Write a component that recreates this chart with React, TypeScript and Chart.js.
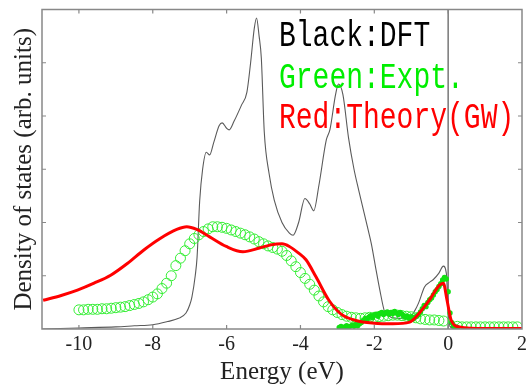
import React, { useEffect, useRef } from "react";
import { Chart, registerables } from "chart.js";

Chart.register(...registerables);

// ---- Data ----
const xTickValues = [-10, -8, -6, -4, -2, 0, 2];
const yTickValues = [0, 1, 2, 3, 4, 5, 6];

// Black: DFT density of states
const dftX = [-11, -10, -9, -8.5, -8, -7.6, -7.3, -7.1, -7.0, -6.94, -6.85, -6.8, -6.73, -6.65, -6.55, -6.46, -6.35, -6.2, -6.12, -6.0, -5.93, -5.8, -5.6, -5.45, -5.35, -5.25, -5.19, -5.12, -5.06, -4.98, -4.85, -4.71, -4.5, -4.3, -4.2, -4.05, -3.88, -3.75, -3.64, -3.5, -3.3, -3.2, -3.05, -2.97, -2.85, -2.7, -2.55, -2.42, -2.17, -2.08, -1.95, -1.85, -1.72, -1.6, -1.3, -1.04, -0.9, -0.8, -0.64, -0.5, -0.4, -0.25, -0.13, -0.05, 0.0, 0.05, 0.2, 2.0];
const dftY = [0.0, 0.02, 0.04, 0.06, 0.08, 0.14, 0.2, 0.3, 0.45, 0.6, 1.0, 1.35, 2.4, 3.0, 3.32, 3.27, 3.5, 3.82, 3.87, 3.77, 3.74, 3.9, 4.2, 4.45, 5.0, 5.65, 5.84, 5.5, 5.09, 3.7, 2.92, 2.42, 2.0, 1.8, 1.76, 2.0, 2.45, 2.35, 2.22, 2.7, 3.55, 3.75, 4.4, 4.6, 4.4, 3.6, 3.0, 2.6, 1.87, 1.6, 1.1, 0.73, 0.32, 0.24, 0.2, 0.22, 0.35, 0.49, 0.79, 0.88, 0.93, 1.05, 1.18, 1.05, 0.4, 0.05, 0.0, 0.0];

// Red: Theory (GW)
const gwX = [-10.97, -10.48, -10.04, -9.59, -9.14, -8.69, -8.25, -7.8, -7.35, -7.08, -6.81, -6.46, -6.01, -5.56, -5.11, -4.8, -4.5, -4.3, -4.04, -3.85, -3.58, -3.23, -2.9, -2.5, -2.0, -1.5, -1.04, -0.78, -0.51, -0.24, -0.13, -0.03, 0.08, 0.3, 1.0, 2.0];
const gwY = [0.54, 0.63, 0.73, 0.86, 1.01, 1.23, 1.48, 1.70, 1.87, 1.92, 1.87, 1.73, 1.55, 1.45, 1.52, 1.58, 1.6, 1.55, 1.42, 1.3, 0.98, 0.54, 0.28, 0.16, 0.11, 0.1, 0.13, 0.3, 0.54, 0.82, 0.86, 0.54, 0.17, 0.04, 0.01, 0.01];

// Green: Experiment (open circles)
const exptX = [-10.0, -9.875, -9.75, -9.625, -9.5, -9.375, -9.25, -9.125, -9.0, -8.875, -8.75, -8.625, -8.5, -8.375, -8.25, -8.125, -8.0, -7.875, -7.75, -7.625, -7.5, -7.375, -7.25, -7.125, -7.0, -6.875, -6.75, -6.625, -6.5, -6.375, -6.25, -6.125, -6.0, -5.875, -5.75, -5.625, -5.5, -5.375, -5.25, -5.125, -5.0, -4.875, -4.75, -4.625, -4.5, -4.375, -4.25, -4.125, -4.0, -3.875, -3.75, -3.625, -3.5, -3.375, -3.25, -3.125, -3.0, -2.875, -2.75, -2.625, -2.5, -2.375, -2.25, -2.125, -2.0, -1.875, -1.75, -1.625, -1.5, -1.375, -1.25, -1.125, -1.0, -0.875, -0.75, -0.625, -0.5, -0.375, -0.25, -0.125, 0.25, 0.375, 0.5, 0.625, 0.75, 0.875, 1.0, 1.125, 1.25, 1.375, 1.5, 1.625, 1.75, 1.875];
const exptY = [0.36, 0.36, 0.37, 0.37, 0.37, 0.38, 0.38, 0.39, 0.40, 0.41, 0.42, 0.44, 0.46, 0.48, 0.51, 0.55, 0.60, 0.66, 0.76, 0.86, 1.0, 1.19, 1.33, 1.47, 1.60, 1.70, 1.77, 1.83, 1.88, 1.92, 1.92, 1.91, 1.89, 1.86, 1.83, 1.80, 1.77, 1.73, 1.69, 1.64, 1.60, 1.56, 1.53, 1.50, 1.46, 1.38, 1.28, 1.17, 1.06, 0.95, 0.84, 0.73, 0.62, 0.51, 0.42, 0.36, 0.31, 0.27, 0.24, 0.22, 0.21, 0.20, 0.21, 0.22, 0.22, 0.23, 0.24, 0.25, 0.26, 0.26, 0.25, 0.24, 0.23, 0.21, 0.19, 0.18, 0.17, 0.17, 0.16, 0.15, 0.05, 0.04, 0.04, 0.04, 0.04, 0.04, 0.04, 0.04, 0.04, 0.04, 0.04, 0.04, 0.04, 0.04];

// Green: Experiment (filled dots, near the Fermi level)
const exptDotX = [-2.95, -2.9, -2.85, -2.8, -2.75, -2.7, -2.65, -2.6, -2.55, -2.5, -2.45, -2.4, -2.35, -2.3, -2.25, -2.2, -2.15, -2.1, -2.05, -2.0, -1.95, -1.9, -1.85, -1.8, -1.75, -1.7, -1.65, -1.6, -1.55, -1.5, -1.45, -1.4, -1.35, -1.3, -1.25, -1.2, -1.15, -1.1, -1.05, -1.0, -0.95, -0.9, -0.85, -0.8, -0.75, -0.7, -0.65, -0.6, -0.55, -0.5, -0.45, -0.4, -0.35, -0.3, -0.25, -0.2, -0.15, -0.1, -0.05, 0.0, 0.05, 0.1, 0.15, 0.2, 0.25];
const exptDotY = [0.03, 0.05, 0.02, 0.04, 0.06, 0.03, 0.05, 0.07, 0.05, 0.08, 0.06, 0.1, 0.12, 0.16, 0.2, 0.17, 0.22, 0.25, 0.21, 0.26, 0.28, 0.24, 0.29, 0.31, 0.27, 0.3, 0.32, 0.28, 0.31, 0.29, 0.33, 0.3, 0.27, 0.31, 0.28, 0.25, 0.22, 0.24, 0.2, 0.23, 0.19, 0.22, 0.24, 0.27, 0.32, 0.38, 0.44, 0.42, 0.5, 0.55, 0.58, 0.64, 0.7, 0.74, 0.8, 0.85, 0.92, 0.97, 0.94, 0.7, 0.3, 0.12, 0.06, 0.04, 0.03];

// Fermi level marker
const fermiX = [0, 0];
const fermiY = [0, 6];

const legendLines = [
  { text: "Black:DFT", color: "#000000" },
  { text: "Green:Expt.", color: "#00ee00" },
  { text: "Red:Theory(GW)", color: "#ff0000" },
];

const zip = (xs: number[], ys: number[]) => xs.map((x, i) => ({ x, y: ys[i] }));

const framePlugin = {
  id: "frameTicks",
  afterDraw(chart: any) {
    const { ctx, chartArea } = chart;
    const { left, right, top, bottom } = chartArea;
    const xs = chart.scales.x;
    const ys = chart.scales.y;
    ctx.save();
    ctx.strokeStyle = "#888888";
    ctx.lineWidth = 1.5;
    ctx.strokeRect(left, top, right - left, bottom - top);
    ctx.lineWidth = 1.2;
    const len = 4;
    ctx.beginPath();
    xs.ticks.forEach((t: any) => {
      const px = xs.getPixelForValue(t.value);
      if (px <= left + 1 || px >= right - 1) return;
      ctx.moveTo(px, bottom);
      ctx.lineTo(px, bottom - len);
      ctx.moveTo(px, top);
      ctx.lineTo(px, top + len);
    });
    ys.ticks.forEach((t: any) => {
      const py = ys.getPixelForValue(t.value);
      if (py <= top + 1 || py >= bottom - 1) return;
      ctx.moveTo(left, py);
      ctx.lineTo(left + len, py);
      ctx.moveTo(right, py);
      ctx.lineTo(right - len, py);
    });
    ctx.stroke();

    // annotation text
    ctx.font = "28px 'Liberation Mono'";
    ctx.textAlign = "left";
    ctx.textBaseline = "alphabetic";
    const baselines = [46, 88, 128];
    legendLines.forEach((l, i) => {
      ctx.save();
      ctx.translate(279, baselines[i]);
      ctx.scale(1, 1.3);
      ctx.fillStyle = l.color;
      ctx.fillText(l.text, 0, 0);
      ctx.restore();
    });
    ctx.restore();
  },
};

export default function App() {
  const ref = useRef<HTMLCanvasElement | null>(null);
  useEffect(() => {
    document.body.style.margin = "0";
    if (!ref.current) return;
    const chart = new Chart(ref.current, {
      type: "scatter",
      data: {
        datasets: [
          {
            label: "Theory (GW)",
            data: zip(gwX, gwY),
            showLine: true,
            borderColor: "#ff0000",
            borderWidth: 3,
            pointRadius: 0,
            cubicInterpolationMode: "monotone",
            order: 0,
          } as any,
          {
            label: "Expt. dots",
            data: zip(exptDotX, exptDotY),
            showLine: false,
            pointRadius: 2.7,
            borderWidth: 0,
            backgroundColor: "#11e011",
            borderColor: "#11e011",
            order: 1,
          },
          {
            label: "Expt.",
            data: zip(exptX, exptY),
            showLine: false,
            pointRadius: 5,
            borderWidth: 1,
            borderColor: "#33ee33",
            backgroundColor: "rgba(0,0,0,0)",
            order: 2,
          },
          {
            label: "DFT",
            data: zip(dftX, dftY),
            showLine: true,
            borderColor: "#5a5a5a",
            borderWidth: 1.1,
            pointRadius: 0,
            cubicInterpolationMode: "monotone",
            order: 3,
          } as any,
          {
            label: "Fermi",
            data: zip(fermiX, fermiY),
            showLine: true,
            borderColor: "#777777",
            borderWidth: 1.5,
            pointRadius: 0,
            order: 4,
          },
        ],
      },
      options: {
        animation: false,
        responsive: false,
        devicePixelRatio: 1,
        layout: { padding: { top: 9.5, right: 3, left: 0, bottom: 0 } },
        plugins: { legend: { display: false }, tooltip: { enabled: false } },
        scales: {
          x: {
            type: "linear",
            min: -11,
            max: 2,
            position: "bottom",
            grid: { display: false, drawTicks: false },
            border: { display: false },
            ticks: {
              font: { family: "'Liberation Serif'", size: 20 },
              color: "#222222",
              padding: 4,
              maxRotation: 0,
              autoSkip: false,
              callback: (v: any) => String(v),
            },
            title: {
              display: true,
              text: "Energy (eV)",
              font: { family: "'Liberation Serif'", size: 25 },
              color: "#222222",
              padding: { top: 0, bottom: -2 },
            },
            afterBuildTicks: (s: any) => {
              s.ticks = xTickValues.map((v) => ({ value: v }));
            },
            afterFit: (s: any) => {
              s.height = 56;
              s.paddingLeft = 0;
              s.paddingRight = 0;
            },
          },
          y: {
            type: "linear",
            min: 0,
            max: 6,
            grid: { display: false, drawTicks: false },
            border: { display: false },
            ticks: { display: false },
            title: {
              display: true,
              text: "Density of states (arb. units)",
              font: { family: "'Liberation Serif'", size: 25 },
              color: "#222222",
              padding: { top: 9, bottom: 0 },
            },
            afterBuildTicks: (s: any) => {
              s.ticks = yTickValues.map((v) => ({ value: v }));
            },
            afterFit: (s: any) => {
              s.width = 42;
            },
          },
        },
      },
      plugins: [framePlugin],
    });
    return () => chart.destroy();
  }, []);
  return (
    <div style={{ width: 528, height: 385 }}>
      <canvas ref={ref} width={528} height={385} style={{ display: "block" }} />
    </div>
  );
}
